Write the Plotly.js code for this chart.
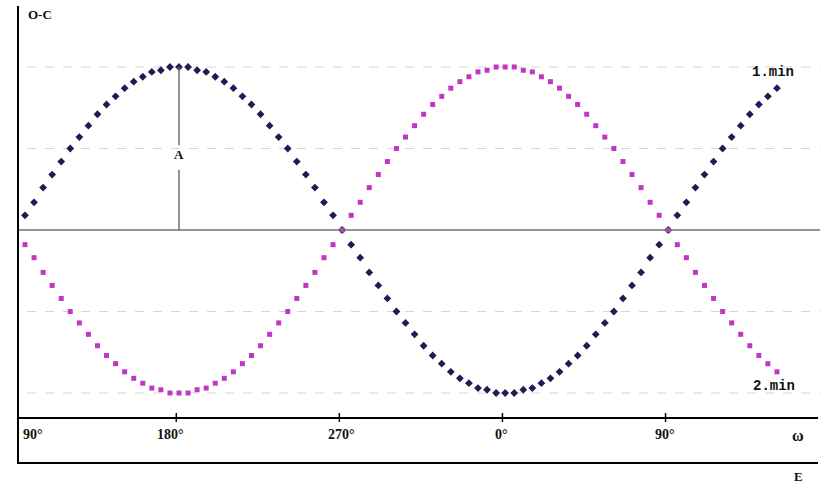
<!DOCTYPE html>
<html>
<head>
<meta charset="utf-8">
<script src="https://cdn.plot.ly/plotly-3.0.1.min.js"></script>
<style>html,body{margin:0;padding:0;background:#fff;}#chart{width:820px;height:484px;}</style>
</head>
<body>
<div id="chart"></div>
<script>
// Phase angle (degrees, continuous) of each plotted point
const phase = [95,100,105,110,115,120,125,130,135,140,145,150,155,160,165,170,175,180,
  185,190,195,200,205,210,215,220,225,230,235,240,245,250,255,260,265,270,
  275,280,285,290,295,300,305,310,315,320,325,330,335,340,345,350,355,360,
  365,370,375,380,385,390,395,400,405,410,415,420,425,430,435,440,445,450,
  455,460,465,470,475,480,485,490,495,500,505,510];

// O-C values (in units of amplitude A) for minimum 1 (dark diamonds)
const min1 = [0.09,0.17,0.26,0.34,0.42,0.50,0.57,0.64,0.71,0.77,0.82,0.87,0.91,0.94,0.97,0.98,1.00,1.00,
  1.00,0.98,0.97,0.94,0.91,0.87,0.82,0.77,0.71,0.64,0.57,0.50,0.42,0.34,0.26,0.17,0.09,0.00,
  -0.09,-0.17,-0.26,-0.34,-0.42,-0.50,-0.57,-0.64,-0.71,-0.77,-0.82,-0.87,-0.91,-0.94,-0.97,-0.98,-1.00,-1.00,
  -1.00,-0.98,-0.97,-0.94,-0.91,-0.87,-0.82,-0.77,-0.71,-0.64,-0.57,-0.50,-0.42,-0.34,-0.26,-0.17,-0.09,0.00,
  0.09,0.17,0.26,0.34,0.42,0.50,0.57,0.64,0.71,0.77,0.82,0.87];

// O-C values for minimum 2 (magenta squares)
const min2 = [-0.09,-0.17,-0.26,-0.34,-0.42,-0.50,-0.57,-0.64,-0.71,-0.77,-0.82,-0.87,-0.91,-0.94,-0.97,-0.98,-1.00,-1.00,
  -1.00,-0.98,-0.97,-0.94,-0.91,-0.87,-0.82,-0.77,-0.71,-0.64,-0.57,-0.50,-0.42,-0.34,-0.26,-0.17,-0.09,0.00,
  0.09,0.17,0.26,0.34,0.42,0.50,0.57,0.64,0.71,0.77,0.82,0.87,0.91,0.94,0.97,0.98,1.00,1.00,
  1.00,0.98,0.97,0.94,0.91,0.87,0.82,0.77,0.71,0.64,0.57,0.50,0.42,0.34,0.26,0.17,0.09,0.00,
  -0.09,-0.17,-0.26,-0.34,-0.42,-0.50,-0.57,-0.64,-0.71,-0.77,-0.82,-0.87];

// Axis tick positions (continuous phase) and their labels
const tickVals = [90,180,270,360,450];
const tickText = ['90°','180°','270°','0°','90°'];
const gridLevels = [1,0.5,-0.5,-1];
const labelMin1 = '1.min';
const labelMin2 = '2.min';
const amplitudeAt = 180;

const xr = [81.21,533.75];
const yr = [-1.5583,1.4110];
const W = 820, H = 484;
const py = p => 1 - p / H;                           // pixel y -> paper

const traces = [
  {x: phase, y: min1, type:'scatter', mode:'markers', name:'1.min',
   marker:{symbol:'diamond', size:6, color:'#1d1d55'}, hoverinfo:'skip'},
  {x: phase, y: min2, type:'scatter', mode:'markers', name:'2.min',
   marker:{symbol:'square', size:5, color:'#c236c2'}, hoverinfo:'skip'}
];

const shapes = [];
gridLevels.forEach(g => shapes.push({type:'line', xref:'paper', yref:'y', x0:27/W, x1:1, y0:g, y1:g,
  line:{color:'#d4d4d4', width:1, dash:'dash'}, layer:'below'}));
// zero line
shapes.push({type:'line', xref:'paper', yref:'y', x0:18/W, x1:1, y0:0, y1:0, line:{color:'#707070', width:1.5}});
// amplitude marker line (with gap for the label)
shapes.push({type:'line', xref:'x', yref:'y', x0:amplitudeAt, x1:amplitudeAt, y0:1, y1:0.52, line:{color:'#707070', width:1.5}});
shapes.push({type:'line', xref:'x', yref:'y', x0:amplitudeAt, x1:amplitudeAt, y0:0.37, y1:0, line:{color:'#707070', width:1.5}});
// frame lines
shapes.push({type:'line', xref:'paper', yref:'paper', x0:18/W, x1:18/W, y0:py(6), y1:py(464), line:{color:'#000', width:2}});
shapes.push({type:'line', xref:'paper', yref:'paper', x0:18/W, x1:818/W, y0:py(418), y1:py(418), line:{color:'#000', width:2}});
shapes.push({type:'line', xref:'paper', yref:'paper', x0:18/W, x1:818/W, y0:py(463), y1:py(463), line:{color:'#000', width:2}});
// tick marks
tickVals.slice(1).forEach(t => shapes.push({type:'line', xref:'x', yref:'paper', x0:t-1.5, x1:t-1.5, y0:py(413), y1:py(422), line:{color:'#000', width:1.5}}));

const tickLeft = [22,156,327,494,654];
const tickFont = {family:'Liberation Serif, Times New Roman, serif', size:14, color:'#111'};
const annotations = tickText.map((t,i) => ({xref:'paper', yref:'paper', x:tickLeft[i]/W, y:py(434),
  xanchor:'left', yanchor:'middle', text:'<b>'+t+'</b>', showarrow:false, font:tickFont, borderpad:0}));
annotations.push({xref:'paper', yref:'paper', x:26/W, y:py(15), xanchor:'left', yanchor:'middle',
  text:'<b>O-C</b>', showarrow:false, font:{family:'Liberation Serif, serif', size:13, color:'#111'}});
annotations.push({xref:'x', yref:'y', x:amplitudeAt, y:(230-155)/163, xanchor:'center', yanchor:'middle',
  text:'<b>A</b>', showarrow:false, font:{family:'Liberation Serif, serif', size:13, color:'#111'}});
annotations.push({xref:'paper', yref:'paper', x:773/W, y:py(72), xanchor:'center', yanchor:'middle',
  text:'<b>'+labelMin1+'</b>', showarrow:false, font:{family:'Liberation Mono, Courier New, monospace', size:14, color:'#111'}});
annotations.push({xref:'paper', yref:'paper', x:774/W, y:py(386), xanchor:'center', yanchor:'middle',
  text:'<b>'+labelMin2+'</b>', showarrow:false, font:{family:'Liberation Mono, Courier New, monospace', size:14, color:'#111'}});
annotations.push({xref:'paper', yref:'paper', x:798/W, y:py(435), xanchor:'center', yanchor:'middle',
  text:'<b>ω</b>', showarrow:false, font:{family:'Liberation Serif, serif', size:16, color:'#111'}});
annotations.push({xref:'paper', yref:'paper', x:798/W, y:py(476), xanchor:'center', yanchor:'middle',
  text:'<b>E</b>', showarrow:false, borderpad:0, font:{family:'Liberation Serif, serif', size:13, color:'#111'}});

const layout = {
  width:W, height:H, margin:{l:0,r:0,t:0,b:0},
  paper_bgcolor:'#fff', plot_bgcolor:'#fff', showlegend:false,
  xaxis:{range:xr, visible:false, fixedrange:true},
  yaxis:{range:yr, visible:false, fixedrange:true},
  shapes: shapes, annotations: annotations
};
Plotly.newPlot('chart', traces, layout, {staticPlot:true, displayModeBar:false});
</script>
</body>
</html>
